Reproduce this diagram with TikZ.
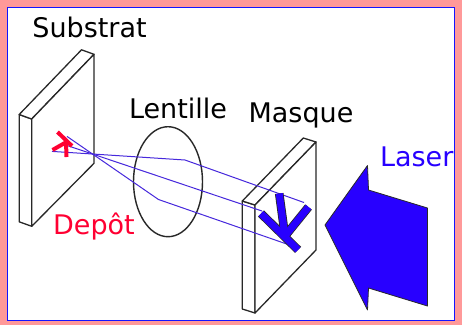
\documentclass[tikz,border=0pt]{standalone}
\usepackage{fontspec}
\setmainfont{DejaVu Sans}
\definecolor{pinkbg}{RGB}{255,153,153}
\definecolor{frameblue}{RGB}{20,20,255}
\definecolor{raycol}{RGB}{70,40,220}
\definecolor{laserblue}{RGB}{40,0,255}
\definecolor{depotred}{RGB}{255,0,50}
\definecolor{edgegray}{RGB}{40,40,40}
\begin{document}
\begin{tikzpicture}[x=1pt,y=-1pt,
  plate/.style={draw=edgegray, line width=1.3pt, line join=round, fill=white},
  ray/.style={draw=raycol, line width=1pt, line join=round},
  txt/.style={font=\fontsize{27}{31}\selectfont, inner sep=0pt, anchor=base},
  markout/.style={draw=edgegray, line width=8.6pt},
  markin/.style={draw=laserblue, line width=7pt},
  imagemark/.style={draw=depotred, line width=4pt}]

% page and frame
\fill[pinkbg] (0,0) rectangle (462,325);
\useasboundingbox (0,0) rectangle (462,325);
\draw[fill=white, draw=frameblue, line width=1.5pt] (7.5,7.5) rectangle (454.5,320.5);

% substrate plate
\draw[plate] (19.2,114.5) -- (31.7,119) -- (31.7,226.3) -- (19.2,221.8) -- cycle;
\draw[plate] (19.2,114.5) -- (81.5,49.8) -- (94,54.3) -- (31.7,119) -- cycle;
\draw[plate] (31.7,119) -- (94,54.3) -- (94,163.3) -- (31.7,226.3) -- cycle;

% mask plate
\draw[plate] (242.3,201) -- (255,205) -- (255,313) -- (242.3,309) -- cycle;
\draw[plate] (242.3,201) -- (303.3,138) -- (316,142) -- (255,205) -- cycle;
\draw[plate] (255,205) -- (316,142) -- (316,250) -- (255,313) -- cycle;

% lens
\draw[edgegray, line width=1.4pt] (168,181.7) ellipse [x radius=34.5, y radius=55];

% rays from the mask through the lens to the focus and the image
\coordinate (focus) at (92.5,154);
\coordinate (mtop) at (304,202.5);
\coordinate (mmid) at (262,211);
\coordinate (mbot) at (291,245.5);
\coordinate (ltop) at (185,160);
\coordinate (lbot) at (158.5,199.5);
\coordinate (itop) at (52,151.4);
\coordinate (imid) at (68,145.8);
\coordinate (ibot) at (67,136.4);
\draw[ray] (mtop) -- (ltop) -- (focus) -- (itop);
\draw[ray] (mmid) -- (focus) -- (imid);
\draw[ray] (mbot) -- (lbot) -- (focus) -- (ibot);

% pattern on the mask
\foreach \s in {markout, markin} {
  \draw[\s] (261,213.5) -- (298,249.8);
  \draw[\s] (279.2,193.5) -- (285,236);
  \draw[\s] (285,236) -- (308.5,207);
}

% deposited image on the substrate
\draw[imagemark] (57.5,132) -- (72,146);
\draw[imagemark] (66,141.5) -- (66.5,157);
\draw[imagemark] (52.5,150) -- (66.5,142);

% laser beam
\draw[fill=laserblue, draw=edgegray, line width=0.8pt, line join=round]
  (325,225) -- (367.5,165.5) -- (368.5,190) -- (427.5,208) -- (427.5,306)
  -- (368.5,288) -- (367.5,310) -- cycle;

% labels
\node[txt] (substrat) at (89.5,37.3) {Substrat};
\node[txt] (lentille) at (178,118.3) {Lentille};
\node[txt] (masque) at (301,122.7) {Masque};
\node[txt, text=laserblue] (laser) at (416.7,166.7) {Laser};
\node[txt, text=depotred] (depot) at (94,234) {Depôt};
\end{tikzpicture}
\end{document}
